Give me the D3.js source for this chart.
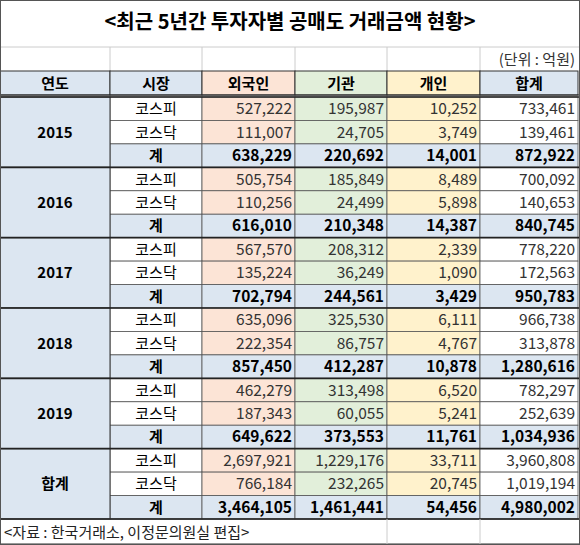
<!DOCTYPE html>
<html><head><meta charset="utf-8">
<script src="https://cdn.jsdelivr.net/npm/d3@7"></script>
<style>body{margin:0;background:#fff}</style>
</head><body>
<script>
const years = ["2015", "2016", "2017", "2018", "2019", "합계"];
const markets = ["코스피", "코스닥", "계"];
const headers = ["연도", "시장", "외국인", "기관", "개인", "합계"];
const foreign = [527222, 111007, 638229, 505754, 110256, 616010, 567570, 135224, 702794, 635096, 222354, 857450, 462279, 187343, 649622, 2697921, 766184, 3464105];
const inst = [195987, 24705, 220692, 185849, 24499, 210348, 208312, 36249, 244561, 325530, 86757, 412287, 313498, 60055, 373553, 1229176, 232265, 1461441];
const indiv = [10252, 3749, 14001, 8489, 5898, 14387, 2339, 1090, 3429, 6111, 4767, 10878, 6520, 5241, 11761, 33711, 20745, 54456];
const total = [733461, 139461, 872922, 700092, 140653, 840745, 778220, 172563, 950783, 966738, 313878, 1280616, 782297, 252639, 1034936, 3960808, 1019194, 4980002];

const W = 580, H = 545;
const colX = [0, 110, 202, 295, 387, 480, 578];
const blue = "#dce6f1", peach = "#fce4d6", green = "#e2efda", yellow = "#fff2cc";
const colFill = [blue, "#fff", peach, green, yellow, "#fff"];
const headFill = [blue, blue, peach, green, yellow, blue];
const font = "'Malgun Gothic','Noto Sans CJK KR',sans-serif";

const svg = d3.select("body").append("svg").attr("width", W).attr("height", H)
  .style("font-family", font);

const y = d3.scaleLinear().domain([0, 18]).range([97, 519]);
const rh = y(1) - y(0);

svg.append("text").attr("x", W / 2).attr("y", 29).attr("text-anchor", "middle")
  .attr("font-size", 20).attr("font-weight", "bold").text("<최근 5년간 투자자별 공매도 거래금액 현황>");

// unit row grid
for (let i = 1; i < 6; i++)
  svg.append("line").attr("x1", colX[i]).attr("x2", colX[i]).attr("y1", 47).attr("y2", 71).attr("stroke", "#ccc");
svg.append("line").attr("x1", 0).attr("x2", W).attr("y1", 47).attr("y2", 47).attr("stroke", "#ccc");
svg.append("text").attr("x", 575).attr("y", 65).attr("text-anchor", "end").attr("font-size", 15).attr("fill", "#333").text("(단위 : 억원)");

// header
headers.forEach((h, i) => {
  svg.append("rect").attr("x", colX[i]).attr("y", 71).attr("width", colX[i + 1] - colX[i]).attr("height", 24)
    .attr("fill", headFill[i]).attr("stroke", "#333");
  svg.append("text").attr("x", (colX[i] + colX[i + 1]) / 2).attr("y", 89).attr("text-anchor", "middle")
    .attr("font-size", 15).attr("font-weight", "bold").text(h);
});

const fmt = d3.format(",");
const cols = [foreign, inst, indiv, total];
for (let r = 0; r < 18; r++) {
  const m = r % 3, sum = m === 2;
  for (let c = 1; c < 6; c++) {
    svg.append("rect").attr("x", colX[c]).attr("y", y(r)).attr("width", colX[c + 1] - colX[c]).attr("height", rh)
      .attr("fill", sum ? blue : colFill[c]).attr("stroke", "#555").attr("stroke-width", 0.8);
  }
  svg.append("text").attr("x", (colX[1] + colX[2]) / 2).attr("y", y(r) + rh / 2 + 5.5).attr("text-anchor", "middle")
    .attr("font-size", 15).attr("font-weight", sum ? "bold" : "normal").text(markets[m]);
  cols.forEach((arr, k) => {
    svg.append("text").attr("x", colX[k + 3] - 3).attr("y", y(r) + rh / 2 + 5.5).attr("text-anchor", "end")
      .attr("font-size", 15.5).attr("font-weight", sum ? "bold" : "normal").attr("fill", sum ? "#000" : "#333")
      .text(fmt(arr[r]));
  });
}
years.forEach((yr, i) => {
  svg.append("rect").attr("x", colX[0]).attr("y", y(i * 3)).attr("width", colX[1]).attr("height", rh * 3)
    .attr("fill", blue).attr("stroke", "#333");
  svg.append("text").attr("x", colX[1] / 2).attr("y", y(i * 3) + rh * 1.5 + 5.5).attr("text-anchor", "middle")
    .attr("font-size", 15).attr("font-weight", "bold").text(yr);
  svg.append("line").attr("x1", 0).attr("x2", W).attr("y1", y(i * 3)).attr("y2", y(i * 3))
    .attr("stroke", "#222").attr("stroke-width", 1.6);
});
svg.append("line").attr("x1", 0).attr("x2", W).attr("y1", 95).attr("y2", 95).attr("stroke", "#222").attr("stroke-width", 1.2);
svg.append("line").attr("x1", 0).attr("x2", W).attr("y1", y(18)).attr("y2", y(18)).attr("stroke", "#222").attr("stroke-width", 1.6);

// footer
svg.append("rect").attr("x", 0.5).attr("y", y(18)).attr("width", W - 1).attr("height", H - y(18) - 1)
  .attr("fill", "none").attr("stroke", "#333");
[387, 480].forEach(x => svg.append("line").attr("x1", x).attr("x2", x).attr("y1", y(18)).attr("y2", H).attr("stroke", "#ccc"));
svg.append("text").attr("x", 4).attr("y", y(18) + 19).attr("font-size", 15).attr("fill", "#222").text("<자료 : 한국거래소, 이정문의원실 편집>");
// outer border
svg.append("rect").attr("x", 0.5).attr("y", 0.5).attr("width", W - 1).attr("height", H - 1).attr("fill", "none").attr("stroke", "#555");
</script>
</body></html>
